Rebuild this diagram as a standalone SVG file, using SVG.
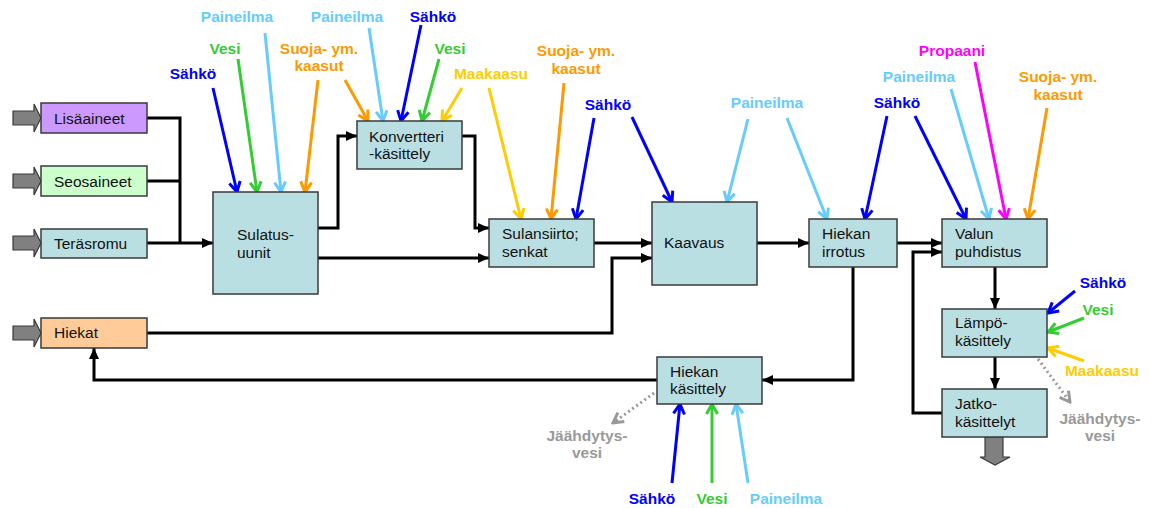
<svg xmlns="http://www.w3.org/2000/svg" width="1151" height="508" viewBox="0 0 1151 508">
<style>
.box{stroke:#3a3a3a;stroke-width:1.5}
.t{font-family:"Liberation Sans",Arial,sans-serif;font-size:15.5px;fill:#111}
.l{font-family:"Liberation Sans",Arial,sans-serif;font-size:15.5px;font-weight:bold}
.c{fill:none;stroke:#000;stroke-width:3;marker-end:url(#ab)}
.cn{fill:none;stroke:#000;stroke-width:3}
.blk{fill:#808080;stroke:#3a3a3a;stroke-width:1.2}
.a{fill:none;stroke-width:3}
.blue{stroke:#0000ff;marker-end:url(#mblue)}
.green{stroke:#33cc33;marker-end:url(#mgreen)}
.lb{stroke:#66ccff;marker-end:url(#mlb)}
.or{stroke:#ff9900;marker-end:url(#mor)}
.ye{stroke:#ffcc00;marker-end:url(#mye)}
.mg{stroke:#ff00ff;marker-end:url(#mmg)}
.gr{stroke:#999999;stroke-dasharray:2 3;marker-end:url(#mgr)}
</style>
<defs>
<marker id="ab" markerUnits="userSpaceOnUse" markerWidth="11" markerHeight="10" viewBox="0 0 11 10" refX="11" refY="5" orient="auto"><path d="M0,0 L11,5 L0,10 z" fill="#000"/></marker>
<marker id="mblue" markerUnits="userSpaceOnUse" markerWidth="14" markerHeight="14" viewBox="0 0 14 14" refX="12" refY="7" orient="auto"><path d="M2,1.5 L12,7 L2,12.5" fill="none" stroke="#0000ff" stroke-width="3"/></marker>
<marker id="mgreen" markerUnits="userSpaceOnUse" markerWidth="14" markerHeight="14" viewBox="0 0 14 14" refX="12" refY="7" orient="auto"><path d="M2,1.5 L12,7 L2,12.5" fill="none" stroke="#33cc33" stroke-width="3"/></marker>
<marker id="mlb" markerUnits="userSpaceOnUse" markerWidth="14" markerHeight="14" viewBox="0 0 14 14" refX="12" refY="7" orient="auto"><path d="M2,1.5 L12,7 L2,12.5" fill="none" stroke="#66ccff" stroke-width="3"/></marker>
<marker id="mor" markerUnits="userSpaceOnUse" markerWidth="14" markerHeight="14" viewBox="0 0 14 14" refX="12" refY="7" orient="auto"><path d="M2,1.5 L12,7 L2,12.5" fill="none" stroke="#ff9900" stroke-width="3"/></marker>
<marker id="mye" markerUnits="userSpaceOnUse" markerWidth="14" markerHeight="14" viewBox="0 0 14 14" refX="12" refY="7" orient="auto"><path d="M2,1.5 L12,7 L2,12.5" fill="none" stroke="#ffcc00" stroke-width="3"/></marker>
<marker id="mmg" markerUnits="userSpaceOnUse" markerWidth="14" markerHeight="14" viewBox="0 0 14 14" refX="12" refY="7" orient="auto"><path d="M2,1.5 L12,7 L2,12.5" fill="none" stroke="#ff00ff" stroke-width="3"/></marker>
<marker id="mgr" markerUnits="userSpaceOnUse" markerWidth="14" markerHeight="14" viewBox="0 0 14 14" refX="12" refY="7" orient="auto"><path d="M2,1.5 L12,7 L2,12.5" fill="none" stroke="#999999" stroke-width="3"/></marker>
</defs>
<rect width="1151" height="508" fill="#fff"/>

<g id="connectors">
<polyline class="cn" points="147,118 180,118 180,243"/>
<polyline class="cn" points="147,181 180,181"/>
<polyline class="c" points="147,243 213,243"/>
<polyline class="c" points="318,228 338,228 338,136 357,136"/>
<polyline class="c" points="318,258 489,258"/>
<polyline class="c" points="462,136 475,136 475,228 489,228"/>
<polyline class="c" points="594,243 652,243"/>
<polyline class="c" points="147,333 612,333 612,258 652,258"/>
<polyline class="c" points="757,243 809,243"/>
<polyline class="c" points="897,243 942,243"/>
<polyline class="c" points="853,267 853,380 762,380"/>
<polyline class="c" points="657,380 94,380 94,348"/>
<polyline class="c" points="942,413 913,413 913,252 942,252"/>
<polyline class="c" points="995,267 995,309"/>
<polyline class="c" points="995,357 995,389"/>

<!-- Sulatus inputs -->
<line class="a blue" x1="213" y1="88" x2="237" y2="192"/>
<line class="a green" x1="238" y1="59" x2="257" y2="192"/>
<line class="a lb" x1="265" y1="33" x2="281" y2="192"/>
<line class="a or" x1="318" y1="80" x2="305" y2="192"/>
<!-- Konvertteri inputs -->
<line class="a or" x1="345" y1="80" x2="368" y2="121"/>
<line class="a lb" x1="369" y1="28" x2="383" y2="121"/>
<line class="a blue" x1="421" y1="25" x2="401" y2="121"/>
<line class="a green" x1="439" y1="59" x2="422" y2="121"/>
<line class="a ye" x1="462" y1="88" x2="442" y2="121"/>
<!-- Sulansiirto inputs -->
<line class="a ye" x1="489" y1="88" x2="521" y2="219"/>
<line class="a or" x1="564" y1="83" x2="551" y2="219"/>
<line class="a blue" x1="594" y1="118" x2="576" y2="219"/>
<!-- Kaavaus inputs -->
<line class="a blue" x1="632" y1="117" x2="672" y2="202"/>
<line class="a lb" x1="748" y1="119" x2="727" y2="202"/>
<!-- Hiekan irrotus inputs -->
<line class="a lb" x1="787" y1="118" x2="827" y2="219"/>
<line class="a blue" x1="887" y1="116" x2="865" y2="219"/>
<!-- Valun puhdistus inputs -->
<line class="a blue" x1="915" y1="116" x2="966" y2="219"/>
<line class="a lb" x1="951" y1="89" x2="989" y2="219"/>
<line class="a mg" x1="975" y1="62" x2="1006" y2="219"/>
<line class="a or" x1="1047" y1="108" x2="1028" y2="219"/>
<!-- Lämpökäsittely inputs -->
<line class="a blue" x1="1075" y1="291" x2="1048" y2="313"/>
<line class="a green" x1="1084" y1="318" x2="1048" y2="332"/>
<line class="a ye" x1="1084" y1="361" x2="1048" y2="348"/>
<line class="a gr" x1="1038" y1="359" x2="1070" y2="402"/>
<!-- Hiekan käsittely -->
<line class="a gr" x1="654" y1="393" x2="613" y2="423"/>
<line class="a blue" x1="672" y1="483" x2="680" y2="404"/>
<line class="a green" x1="712" y1="483" x2="712" y2="404"/>
<line class="a lb" x1="748" y1="483" x2="736" y2="404"/>
</g>

<g id="labels">
<text class="l" fill="#0000ff" x="193" y="79" text-anchor="middle">Sähkö</text>
<text class="l" fill="#33cc33" x="225" y="54" text-anchor="middle">Vesi</text>
<text class="l" fill="#66ccff" x="237" y="22" text-anchor="middle">Paineilma</text>
<text class="l" fill="#ff9900" x="319" y="54" text-anchor="middle">Suoja- ym.</text>
<text class="l" fill="#ff9900" x="319" y="71" text-anchor="middle">kaasut</text>
<text class="l" fill="#66ccff" x="347" y="22" text-anchor="middle">Paineilma</text>
<text class="l" fill="#0000ff" x="433" y="22" text-anchor="middle">Sähkö</text>
<text class="l" fill="#33cc33" x="450" y="54" text-anchor="middle">Vesi</text>
<text class="l" fill="#ffcc00" x="491" y="79" text-anchor="middle">Maakaasu</text>
<text class="l" fill="#ff9900" x="576" y="56" text-anchor="middle">Suoja- ym.</text>
<text class="l" fill="#ff9900" x="576" y="74" text-anchor="middle">kaasut</text>
<text class="l" fill="#0000ff" x="608" y="110" text-anchor="middle">Sähkö</text>
<text class="l" fill="#66ccff" x="767" y="108" text-anchor="middle">Paineilma</text>
<text class="l" fill="#0000ff" x="897" y="108" text-anchor="middle">Sähkö</text>
<text class="l" fill="#66ccff" x="919" y="82" text-anchor="middle">Paineilma</text>
<text class="l" fill="#ff00ff" x="952" y="56" text-anchor="middle">Propaani</text>
<text class="l" fill="#ff9900" x="1058" y="82" text-anchor="middle">Suoja- ym.</text>
<text class="l" fill="#ff9900" x="1058" y="100" text-anchor="middle">kaasut</text>
<text class="l" fill="#0000ff" x="1103" y="288" text-anchor="middle">Sähkö</text>
<text class="l" fill="#33cc33" x="1098" y="315" text-anchor="middle">Vesi</text>
<text class="l" fill="#ffcc00" x="1102" y="376" text-anchor="middle">Maakaasu</text>
<text class="l" fill="#999999" x="1100" y="424" text-anchor="middle">Jäähdytys-</text>
<text class="l" fill="#999999" x="1100" y="441" text-anchor="middle">vesi</text>
<text class="l" fill="#999999" x="587" y="441" text-anchor="middle">Jäähdytys-</text>
<text class="l" fill="#999999" x="587" y="458" text-anchor="middle">vesi</text>
<text class="l" fill="#0000ff" x="652" y="504" text-anchor="middle">Sähkö</text>
<text class="l" fill="#33cc33" x="712" y="504" text-anchor="middle">Vesi</text>
<text class="l" fill="#66ccff" x="786" y="504" text-anchor="middle">Paineilma</text>
</g>

<g id="in-lisaaineet"><polygon class="blk" points="13,111 34,111 34,104 41,118 34,132 34,125 13,125"/></g>
<g id="in-seosaineet"><polygon class="blk" points="13,174 34,174 34,167 41,181 34,195 34,188 13,188"/></g>
<g id="in-terasromu"><polygon class="blk" points="13,236 34,236 34,229 41,243 34,257 34,250 13,250"/></g>
<g id="in-hiekat"><polygon class="blk" points="13,326 34,326 34,319 41,333 34,347 34,340 13,340"/></g>
<g id="out-jatko"><polygon class="blk" points="985,437 1003,437 1003,457 1010,457 995,465 980,457 985,457"/></g>

<g id="lisaaineet"><rect class="box" x="41" y="103" width="106" height="30" fill="#cc99ff"/><text class="t" x="54" y="124">Lisäaineet</text></g>
<g id="seosaineet"><rect class="box" x="41" y="166" width="106" height="30" fill="#ccffcc"/><text class="t" x="54" y="187">Seosaineet</text></g>
<g id="terasromu"><rect class="box" x="41" y="229" width="106" height="29" fill="#b9dfe2"/><text class="t" x="54" y="249">Teräsromu</text></g>
<g id="hiekat"><rect class="box" x="41" y="318" width="106" height="30" fill="#ffcc99"/><text class="t" x="54" y="338">Hiekat</text></g>
<g id="sulatus"><rect class="box" x="213" y="192" width="105" height="102" fill="#b9dfe2"/><text class="t" x="237" y="240">Sulatus-</text><text class="t" x="237" y="258">uunit</text></g>
<g id="konvertteri"><rect class="box" x="357" y="121" width="105" height="48" fill="#b9dfe2"/><text class="t" x="369" y="142">Konvertteri</text><text class="t" x="369" y="159">-käsittely</text></g>
<g id="sulansiirto"><rect class="box" x="489" y="219" width="105" height="48" fill="#b9dfe2"/><text class="t" x="502" y="239">Sulansiirto;</text><text class="t" x="502" y="257">senkat</text></g>
<g id="kaavaus"><rect class="box" x="652" y="202" width="105" height="83" fill="#b9dfe2"/><text class="t" x="664" y="248">Kaavaus</text></g>
<g id="hiekan-irrotus"><rect class="box" x="809" y="219" width="88" height="48" fill="#b9dfe2"/><text class="t" x="822" y="239">Hiekan</text><text class="t" x="822" y="257">irrotus</text></g>
<g id="valun-puhdistus"><rect class="box" x="942" y="219" width="105" height="48" fill="#b9dfe2"/><text class="t" x="955" y="239">Valun</text><text class="t" x="955" y="257">puhdistus</text></g>
<g id="lampokasittely"><rect class="box" x="942" y="309" width="105" height="48" fill="#b9dfe2"/><text class="t" x="955" y="328">Lämpö-</text><text class="t" x="955" y="346">käsittely</text></g>
<g id="jatkokasittelyt"><rect class="box" x="942" y="389" width="105" height="48" fill="#b9dfe2"/><text class="t" x="955" y="409">Jatko-</text><text class="t" x="955" y="427">käsittelyt</text></g>
<g id="hiekan-kasittely"><rect class="box" x="657" y="357" width="105" height="47" fill="#b9dfe2"/><text class="t" x="670" y="377">Hiekan</text><text class="t" x="670" y="394">käsittely</text></g>
</svg>
